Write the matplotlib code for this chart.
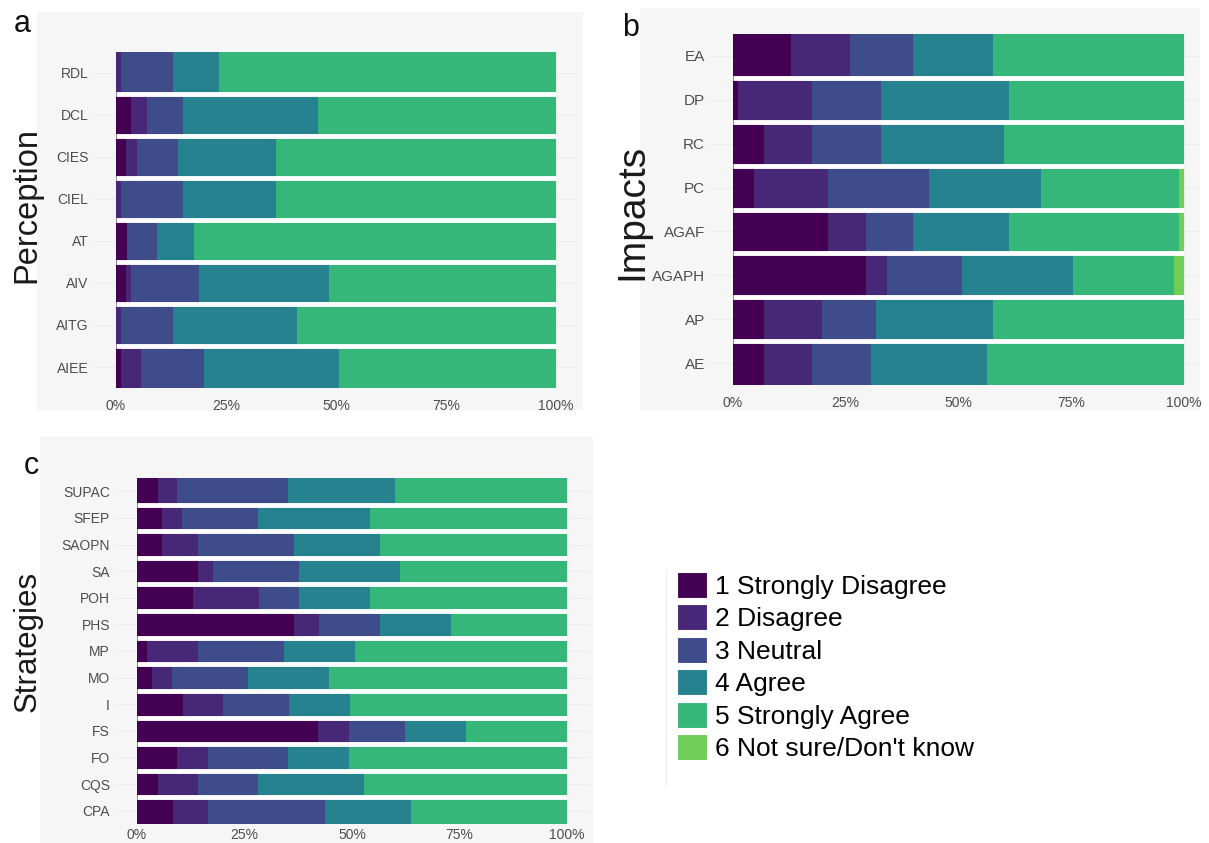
import numpy as np
import matplotlib
matplotlib.use("Agg")
from matplotlib import pyplot as plt
from matplotlib.patches import Rectangle, Patch

plt.rcParams["font.family"] = ["Liberation Sans", "DejaVu Sans"]

levels = ["1 Strongly Disagree", "2 Disagree", "3 Neutral", "4 Agree",
          "5 Strongly Agree", "6 Not sure/Don't know"]
colors = ["#440154", "#472877", "#3E4C8A", "#26828E", "#35B779", "#6ECE58"]

# panel a - perception (top to bottom), % per level
perc_items = ["RDL", "DCL", "CIES", "CIEL", "AT", "AIV", "AITG", "AIEE"]
perc_sd = [0.0, 3.5, 2.3, 0.0, 2.4, 2.3, 0.0, 1.2]
perc_d = [1.2, 3.6, 2.4, 1.2, 0.0, 1.1, 1.2, 4.5]
perc_n = [11.7, 8.2, 9.4, 14.0, 7.0, 15.5, 11.7, 14.2]
perc_a = [10.6, 30.6, 22.3, 21.2, 8.4, 29.4, 28.3, 30.7]
perc_sa = [76.5, 54.1, 63.6, 63.6, 82.2, 51.7, 58.8, 49.4]
perc_ns = [0, 0, 0, 0, 0, 0, 0, 0]

# panel b - impacts
imp_items = ["EA", "DP", "RC", "PC", "AGAF", "AGAPH", "AP", "AE"]
imp_sd = [12.8, 1.1, 6.9, 4.7, 21.1, 29.4, 6.9, 6.9]
imp_d = [13.1, 16.4, 10.6, 16.4, 8.3, 4.7, 12.9, 10.6]
imp_n = [14.1, 15.4, 15.4, 22.4, 10.6, 16.6, 11.9, 13.0]
imp_a = [17.7, 28.3, 27.1, 24.7, 21.2, 24.7, 25.9, 25.9]
imp_sa = [42.3, 38.8, 40.0, 30.6, 37.6, 22.3, 42.4, 43.6]
imp_ns = [0, 0, 0, 1.2, 1.2, 2.3, 0, 0]

# panel c - strategies
str_items = ["SUPAC", "SFEP", "SAOPN", "SA", "POH", "PHS", "MP", "MO", "I",
             "FS", "FO", "CQS", "CPA"]
str_sd = [4.8, 5.9, 5.9, 14.1, 13.0, 36.5, 2.3, 3.5, 10.6, 42.2, 9.4, 4.8, 8.3]
str_d = [4.6, 4.6, 8.2, 3.5, 15.3, 5.8, 11.8, 4.7, 9.4, 7.1, 7.0, 9.3, 8.2]
str_n = [25.8, 17.7, 22.4, 20.1, 9.4, 14.2, 20.0, 17.7, 15.3, 13.0, 18.8, 14.1, 27.2]
str_a = [24.8, 25.9, 20.0, 23.5, 16.5, 16.5, 16.5, 18.7, 14.2, 14.1, 14.2, 24.7, 20.0]
str_sa = [40.0, 45.9, 43.5, 38.8, 45.8, 27.0, 49.4, 55.4, 50.5, 23.6, 50.6, 47.1, 36.3]
str_ns = [0] * 13

W, H = 1209, 843
fig = plt.figure(figsize=(W / 100, H / 100), dpi=100)


def px_rect(x0, y0, x1, y1):
    return [x0 / W, 1 - y1 / H, (x1 - x0) / W, (y1 - y0) / H]


def panel(bg, zero_px, full_px, top, bottom, items, series, title, letter,
          letter_xy, title_xy, title_size, xlim=(-5, 105), xpad=8, ylab_size=10):
    # gray panel background
    bx0, by0, bx1, by1 = bg
    fig.patches.append(Rectangle((bx0 / W, 1 - by1 / H), (bx1 - bx0) / W, (by1 - by0) / H,
                                 transform=fig.transFigure, facecolor="#F6F6F6",
                                 edgecolor="none", zorder=-5))
    ppu = (full_px - zero_px) / 100.0
    left = zero_px + xlim[0] * ppu
    right = zero_px + xlim[1] * ppu
    n = len(items)
    ax = fig.add_axes(px_rect(left, top, right, bottom))
    ax.set_facecolor("none")
    ypos = np.arange(n)[::-1]
    cum = np.zeros(n)
    for vals, col in zip(series, colors):
        vals = np.array(vals, dtype=float)
        ax.barh(ypos, vals, left=cum, height=1.0, color=col, linewidth=0, zorder=2)
        cum += vals
    # white separators between bars
    ax.hlines(np.arange(n - 1) + 0.5, 0, 100, color="white", lw=3.5, zorder=3)
    ax.set_xlim(*xlim)
    ax.set_ylim(-0.5, n - 0.5)
    ax.set_yticks(ypos)
    ax.set_yticklabels(items)
    ax.set_xticks([0, 25, 50, 75, 100])
    ax.set_xticklabels(["0%", "25%", "50%", "75%", "100%"])
    ax.set_xticks([12.5, 37.5, 62.5, 87.5], minor=True)
    ax.grid(True, which="both", axis="x", color="#EBEBEB", lw=0.8, zorder=0)
    ax.grid(True, axis="y", color="#EBEBEB", lw=0.8, zorder=0)
    ax.set_axisbelow(True)
    for s in ax.spines.values():
        s.set_visible(False)
    ax.tick_params(axis="both", which="both", length=0, labelsize=10,
                   labelcolor="#4D4D4D")
    ax.tick_params(axis="y", labelsize=ylab_size, pad=4)
    ax.tick_params(axis="x", pad=xpad)
    fig.text(title_xy[0] / W, 1 - title_xy[1] / H, title, rotation=90,
             ha="center", va="center", fontsize=title_size, color="#1A1A1A")
    fig.text(letter_xy[0] / W, 1 - letter_xy[1] / H, letter, ha="center",
             va="center", fontsize=22, color="#111111")
    return ax


panel((37, 12, 583, 410), 116, 556, 52, 388, perc_items,
      [perc_sd, perc_d, perc_n, perc_a, perc_sa, perc_ns],
      "Perception", "a", (22, 24), (27, 205), 23.5)
panel((640, 8, 1200, 410), 733, 1184, 34, 385, imp_items,
      [imp_sd, imp_d, imp_n, imp_a, imp_sa, imp_ns],
      "Impacts", "b", (631, 28), (632, 212), 28, xlim=(-5, 103), ylab_size=11)
panel((40, 437, 593, 843), 137, 567, 478, 824, str_items,
      [str_sd, str_d, str_n, str_a, str_sa, str_ns],
      "Strategies", "c", (31, 466), (28, 641), 22.5, xpad=3)

# legend
fig.patches.append(Rectangle((666 / W, 1 - 787 / H), 1 / W, 217 / H,
                             transform=fig.transFigure, facecolor="#EFEFEF",
                             edgecolor="none"))
handles = [Patch(facecolor=c, edgecolor="white", lw=0.8) for c in colors]
fig.legend(handles, levels, loc="upper left", bbox_to_anchor=(677 / W, 1 - 572 / H),
           frameon=False, fontsize=19, handlelength=1.15, handleheight=1.13,
           handletextpad=0.3, labelspacing=0.21, borderaxespad=0, borderpad=0)

fig.savefig("out.png", dpi=100)
